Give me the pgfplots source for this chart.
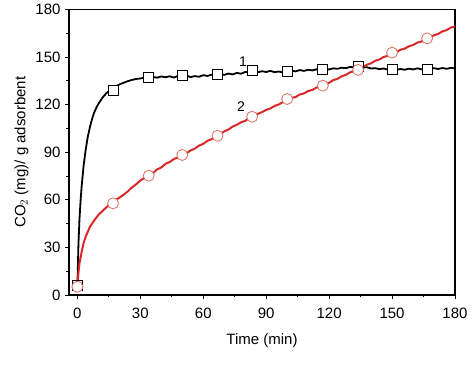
\documentclass[border=0pt]{standalone}
\usepackage{pgfplots}
\pgfplotsset{compat=1.18}
\usepackage{fontspec}
\setmainfont{Liberation Sans}
\definecolor{redline}{RGB}{218,40,40}
\definecolor{redmark}{RGB}{225,120,110}
\begin{document}
\begin{tikzpicture}
\path[use as bounding box] (-69pt,-74pt) rectangle (405pt,295pt);
\begin{axis}[
  at={(0pt,0pt)}, anchor=south west,
  scale only axis, width=386pt, height=285.5pt,
  xmin=-4, xmax=180, ymin=0, ymax=180,
  xtick={0,30,...,180}, ytick={0,30,...,180},
  minor x tick num=1, minor y tick num=1,
  tick align=outside, axis x line*=bottom, axis y line*=left,
  major tick length=4pt, minor tick length=2.5pt,
  every tick/.style={black, line width=0.9pt},
  axis line style={line width=1.2pt},
  /pgf/number format/assume math mode=true,
  ticklabel style={font=\fontsize{15}{17}\selectfont},
  xticklabel style={yshift=-5pt},
  yticklabel style={xshift=-1pt},
  xlabel={Time (min)}, ylabel={CO$_2$ (mg)/ g adsorbent},
  label style={font=\fontsize{15}{17}\selectfont},
  xlabel style={yshift=-9pt},
  ylabel style={yshift=0pt},
  clip=false,
]
\draw[line width=1.2pt] (rel axis cs:0,1) -- (rel axis cs:1,1) -- (rel axis cs:1,0);
\addplot[black, line width=1.8pt] coordinates {
(0,5) (0.5,32) (1,48) (1.5,59) (2,68) (3,82) (4,92) (5,100) (6,106) (7,111) (8,115) (9,118) (10,120.5) (12,124.5) (14,127.5) (16,129.5) (18,131.3) (20,132.7) (22,133.8) (24,134.8) (26,135.6) (28,136.2)
(30,136.5) (32,137.2) (34,136.8) (36,137.5) (38,137.0) (40,137.8) (42,137.3) (44,137.9) (46,137.1) (48,138.2) (50,137.6) (52,138.3) (54,137.4) (56,138.0) (58,137.6) (60,138.6) (62,138.1) (64,138.9) (66,138.4) (68,139.2) (70,138.8) (72,139.6) (74,139.1) (76,140.0) (78,139.5) (80,140.6) (82,140.2) (84,141.0) (86,140.4) (88,141.1) (90,140.6) (92,141.3) (94,140.5) (96,140.9) (98,140.3) (100,140.8) (102,141.5) (104,141.0) (106,141.8) (108,141.3) (110,142.0) (112,141.6) (114,142.3) (116,142.0) (118,142.6) (120,142.2) (122,142.9) (124,142.6) (126,143.3) (128,143.0) (130,143.8) (132,143.5) (134,144.0) (136,143.4) (138,143.6) (140,142.8) (142,143.0) (144,142.4) (146,142.8) (148,142.1) (150,142.4) (152,141.9) (154,142.5) (156,142.0) (158,142.7) (160,142.2) (162,142.9) (164,142.3) (166,142.8) (168,142.4) (170,143.0) (172,142.5) (174,143.1) (176,142.6) (178,143.2) (180,142.9)
};
\addplot[redline, line width=2pt] coordinates {
(0,5) (0.5,14) (1,20) (2,27) (3,33) (4,37) (5,40) (6,43) (8,47) (10,50.5) (12,53) (14,55.5) (16,57.5) (18,59.8) (20,61.3) (22,63.2) (24,65.3) (26,67.8) (28,69.8) (30,72.2) (32,73.8) (34,75.7) (36,76.8) (38,79.2) (40,80.4) (42,82.7) (44,83.8) (46,85.7) (48,86.8) (50,88.5) (52,89.3) (54,91.2) (56,92.3) (58,94.2) (60,95.3) (62,97.2) (64,98.3) (66,100.2) (68,101.3) (70,103.2) (72,104.3) (74,106.2) (76,107.3) (78,108.9) (80,109.8) (82,111.7) (84,112.4) (86,114.2) (88,115.3) (90,116.7) (92,117.6) (94,119.2) (96,120.1) (98,121.7) (100,122.6) (102,124.2) (104,124.8) (106,126.4) (108,127.1) (110,128.6) (112,129.3) (114,130.8) (116,131.4) (118,133.0) (120,133.8) (122,135.5) (124,136.3) (126,137.9) (128,138.8) (130,140.4) (132,141.2) (134,142.8) (136,143.6) (138,145.2) (140,146.1) (142,147.7) (144,148.5) (146,150.1) (148,150.8) (150,152.4) (152,153.1) (154,154.6) (156,155.3) (158,156.8) (160,157.6) (162,159.1) (164,159.8) (166,161.4) (168,162.2) (170,163.8) (172,164.6) (174,166.2) (176,167.0) (178,168.6) (180,169.3)
};
\addplot[only marks, mark=square*, mark size=5pt, mark options={fill=white, draw=black, line width=0.8pt}] coordinates {
(0,6) (17,129.3) (34,137) (50,138.3) (66.8,139) (83.3,141.9) (100,140.8) (117,142.5) (133.8,144) (150,142.3) (166.7,142.3)
};
\addplot[only marks, mark=*, mark size=5.5pt, mark options={fill=white, draw=redmark, line width=0.9pt}] coordinates {
(0,5.2) (17,57.8) (34,75.2) (50,88.3) (66.8,100.4) (83.3,112.4) (100,123.6) (117,132) (133.8,141.9) (150,152.8) (166.7,161.8)
};
\node[font=\fontsize{14}{16}\selectfont] at (axis cs:79,147) {1};
\node[font=\fontsize{14}{16}\selectfont] at (axis cs:78,119) {2};
\end{axis}
\end{tikzpicture}
\end{document}
